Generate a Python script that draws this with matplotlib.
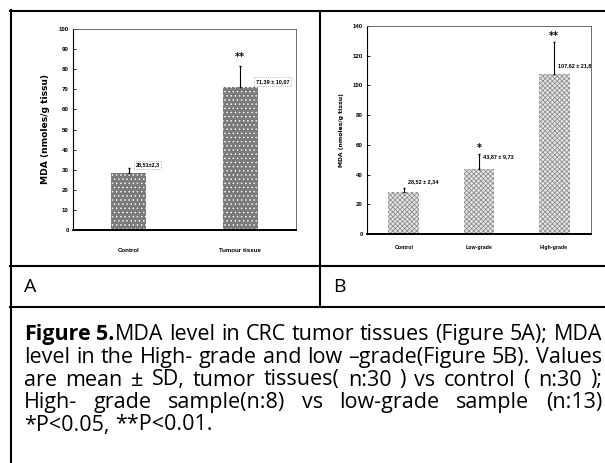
import numpy as np
import matplotlib
matplotlib.use("Agg")
import matplotlib.pyplot as plt
from matplotlib.lines import Line2D

W, H = 605, 463

# data panel A
a_groups = ["Control", "Tumour tissue"]
a_means = [28.51, 71.39]
a_sds = [2.3, 10.07]
a_labels = ["28,51±2,3", "71,39 ± 10,07"]
a_stars = ["", "**"]

# data panel B
b_groups = ["Control", "Low-grade", "High-grade"]
b_means = [28.52, 43.87, 107.62]
b_sds = [2.34, 9.73, 21.8]
b_labels = ["28,52 ± 2,34", "43,87 ± 9,73", "107,62 ± 21,8"]
b_stars = ["", "*", "**"]

caption = [
    [[("Figure", "bold")], [("5.", "bold"), ("MDA", "normal")], "level", "in", "CRC",
     "tumor", "tissues", "(Figure", "5A);", "MDA"],
    "level in the High- grade and low –grade(Figure 5B). Values".split(),
    "are mean ± SD, tumor tissues( n:30 ) vs control ( n:30 );".split(),
    "High- grade sample(n:8) vs low-grade sample (n:13)".split(),
    "*P<0.05, **P<0.01.".split(),
]

NARROW = ["Liberation Sans Narrow", "Liberation Sans", "DejaVu Sans"]
CAP_FONT = ["Open Sans", "DejaVu Sans"]
plt.rcParams["hatch.linewidth"] = 0.6

fig = plt.figure(figsize=(W / 100, H / 100), dpi=100)


def fx(px):
    return px / W


def fy(py):
    return 1 - py / H


def hline(x0, x1, y):
    fig.add_artist(Line2D([fx(x0), fx(x1)], [fy(y), fy(y)], color="black", lw=1.5))


def vline(x, y0, y1):
    fig.add_artist(Line2D([fx(x), fx(x)], [fy(y0), fy(y1)], color="black", lw=1.5))


def style_axes(ax, ylim, ystep, label_pad, xsize, ylab, ylab_size):
    ax.set_ylim(0, ylim)
    ax.set_yticks(np.arange(0, ylim + 1, ystep))
    ax.tick_params(axis="y", direction="in", length=2, width=0.6, labelsize=4.4, pad=3)
    ax.tick_params(axis="x", length=0, labelsize=xsize, pad=label_pad)
    for lab in ax.get_xticklabels() + ax.get_yticklabels():
        lab.set_family(NARROW)
        lab.set_fontweight("bold")
    ax.spines["bottom"].set_linewidth(1.4)
    ax.spines["left"].set_linewidth(0.8)
    for s in ("top", "right"):
        ax.spines[s].set_linewidth(0.6)
        ax.spines[s].set_color("#555555")
    ax.set_ylabel(ylab, fontsize=ylab_size, fontweight="bold", family="DejaVu Sans",
                  labelpad=6)


# panel A
axA = fig.add_axes([fx(73), fy(230), fx(296) - fx(73), fy(29) - fy(230)])
xa = np.arange(len(a_groups))
axA.bar(xa, a_means, width=0.31, color="#7a7a7a", edgecolor="#f2f2f2", hatch="....",
        linewidth=0, zorder=2)
axA.errorbar(xa, a_means, yerr=[np.zeros(len(a_sds)), a_sds], fmt="none",
             ecolor="black", elinewidth=0.8, capsize=1, zorder=3)
axA.set_xlim(-0.5, 1.5)
axA.set_xticks(xa, a_groups)
style_axes(axA, 100, 10, 13, 4.4, "MDA (nmoles/g tissu)", 6.6)
a_text_pos = [(0.06, 32.3), (1.14, 73.8)]
for i, (m, s) in enumerate(zip(a_means, a_sds)):
    tx, ty = a_text_pos[i]
    axA.text(tx, ty, a_labels[i], fontsize=4.0, family=NARROW, fontweight="bold",
             ha="left", va="center",
             bbox=dict(boxstyle="square,pad=0.3", fc="white", ec="#9a9a9a",
                       ls=":", lw=0.6))
    if a_stars[i]:
        axA.text(i, m + s + 4.5, a_stars[i], fontsize=7, fontweight="bold",
                 ha="center", va="center")

# panel B
axB = fig.add_axes([fx(367), fy(234), fx(591) - fx(367), fy(26) - fy(234)])
xb = np.arange(len(b_groups))
axB.bar(xb, b_means, width=0.41, color="#e6e6e6", edgecolor="#8f8f8f", hatch="xxxxxxx",
        linewidth=0, zorder=2)
axB.errorbar(xb, b_means, yerr=[np.zeros(len(b_sds)), b_sds], fmt="none",
             ecolor="black", elinewidth=0.8, capsize=1, zorder=3)
axB.set_xlim(-0.49, 2.49)
axB.set_xticks(xb, b_groups)
style_axes(axB, 140, 20, 8, 3.8, "MDA (nmoles/g tissu)", 4.4)
b_text_y = [35, 52, 113.5]
for i, m in enumerate(b_means):
    axB.text(i + 0.05, b_text_y[i], b_labels[i], fontsize=4.0, family=NARROW,
             fontweight="bold", ha="left", va="center")
    if b_stars[i]:
        axB.text(i, b_means[i] + b_sds[i] + 4, b_stars[i], fontsize=7,
                 fontweight="bold", ha="center", va="center")

# table frame
hline(10, W + 5, 11)
hline(10, W + 5, 266)
hline(10, W + 5, 307)
vline(11, 10, H + 5)
vline(320, 11, 307)

fig.text(fx(24), fy(287), "A", fontsize=14, family=CAP_FONT, ha="left", va="center")
fig.text(fx(333), fy(287), "B", fontsize=14, family=CAP_FONT, ha="left", va="center")

# justified caption
renderer = fig.canvas.get_renderer()
x_left, x_right = 24, 602
line_y = [332, 355, 377.5, 400, 422.5]


def word_runs(w):
    if isinstance(w, str):
        return [(w, "normal")]
    return w


def run_width(txt, weight, size):
    t = fig.text(0, 0, txt, fontsize=size, fontweight=weight, family=CAP_FONT)
    wpx = t.get_window_extent(renderer).width
    t.remove()
    return wpx


def space_width(size):
    return run_width("a a", "normal", size) - run_width("aa", "normal", size)


# largest size where the natural lines still fit
cap_size = 16.0
while cap_size > 6:
    sp = space_width(cap_size)
    fits = True
    for words in caption[:-1]:
        ws = [sum(run_width(t, wt, cap_size) for t, wt in word_runs(w)) for w in words]
        if sum(ws) + sp * (len(ws) - 1) > x_right - x_left:
            fits = False
            break
    if fits:
        break
    cap_size -= 0.25

space = space_width(cap_size)
for li, words in enumerate(caption):
    widths = [[run_width(t, wt, cap_size) for t, wt in word_runs(w)] for w in words]
    totals = [sum(w) for w in widths]
    if li < len(caption) - 1:
        gap = (x_right - x_left - sum(totals)) / (len(words) - 1)
    else:
        gap = space
    x = x_left
    for w, ws in zip(words, widths):
        xx = x
        for (t, wt), rw in zip(word_runs(w), ws):
            fig.text(fx(xx), fy(line_y[li]), t, fontsize=cap_size, fontweight=wt,
                     family=CAP_FONT, ha="left", va="center_baseline")
            xx += rw
        x += sum(ws) + gap

fig.savefig("out.png", dpi=100)
